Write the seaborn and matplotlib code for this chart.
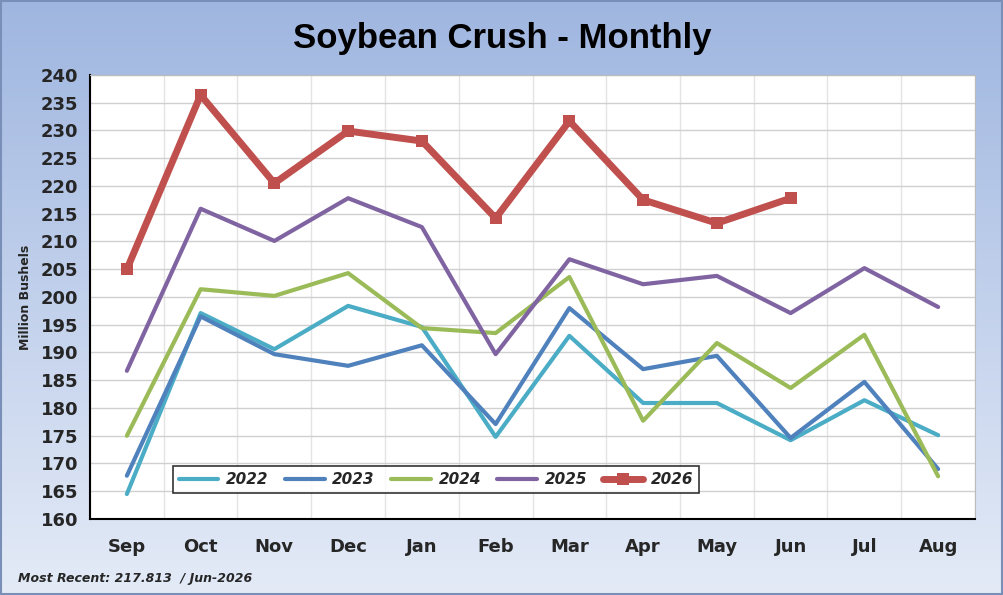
import numpy as np
import pandas as pd
import matplotlib
matplotlib.use("Agg")
import matplotlib.pyplot as plt
import seaborn as sns

sns.set_style("white")
plt.rcParams["font.family"] = ["DejaVu Sans"]

months = ["Sep", "Oct", "Nov", "Dec", "Jan", "Feb", "Mar", "Apr", "May", "Jun", "Jul", "Aug"]
crush_2022 = [164.5, 197.1, 190.6, 198.4, 194.6, 174.8, 193.0, 180.9, 180.9, 174.2, 181.4, 175.1]
crush_2023 = [167.8, 196.5, 189.7, 187.6, 191.3, 177.1, 198.0, 187.0, 189.4, 174.6, 184.7, 169.0]
crush_2024 = [175.0, 201.4, 200.2, 204.3, 194.4, 193.5, 203.6, 177.7, 191.7, 183.6, 193.2, 167.7]
crush_2025 = [186.7, 215.9, 210.1, 217.8, 212.6, 189.7, 206.8, 202.3, 203.8, 197.1, 205.2, 198.2]
crush_2026 = [205.0, 236.4, 220.5, 229.9, 228.1, 214.2, 231.7, 217.5, 213.3, 217.8]

series = {"2022": crush_2022, "2023": crush_2023, "2024": crush_2024,
          "2025": crush_2025, "2026": crush_2026}
colors = {"2022": "#4bacc6", "2023": "#4f81bd", "2024": "#9bbb59",
          "2025": "#8064a2", "2026": "#c0504d"}

rows = []
for year, vals in series.items():
    for i, v in enumerate(vals):
        rows.append({"Month": i, "Value": v, "Year": year})
df = pd.DataFrame(rows)

fig = plt.figure(figsize=(10.04, 5.95), dpi=100)

# gradient background
bg = fig.add_axes([0, 0, 1, 1], zorder=-10)
grad = np.linspace(0, 1, 256).reshape(-1, 1)
cmap = matplotlib.colors.LinearSegmentedColormap.from_list("bg", ["#9fb6e0", "#e4ebf7"])
bg.imshow(grad, aspect="auto", cmap=cmap, extent=[0, 1, 0, 1])
bg.axis("off")

ax = fig.add_axes([90 / 1004, 1 - 519 / 595, 885 / 1004, 444 / 595])
ax.set_facecolor("white")
for year in series:
    d = df[df["Year"] == year]
    sns.lineplot(data=d, x="Month", y="Value", ax=ax, color=colors[year],
                 linewidth=5 if year == "2026" else 3,
                 marker="s" if year == "2026" else None, markersize=9,
                 markeredgewidth=0, label=year)

ax.set_xlim(-0.5, 11.5)
ax.set_ylim(160, 240)
ax.set_yticks(range(160, 241, 5))
ax.set_xticks(range(12))
ax.set_xticklabels(months, fontsize=13, fontweight="bold")
ax.set_xticks(np.arange(-0.5, 12, 1), minor=True)
ax.tick_params(axis="x", which="major", length=0, pad=14)
ax.tick_params(axis="x", which="minor", length=6, direction="out", color="black")
ax.tick_params(axis="y", labelsize=13, length=5, direction="out", color="black")
for lbl in ax.get_yticklabels():
    lbl.set_fontweight("bold")
ax.grid(axis="y", color="#d0d0d0", linewidth=1)
ax.grid(axis="x", which="minor", color="#e4e4e4", linewidth=1)
ax.set_xlabel("")
ax.set_ylabel("Million Bushels", fontsize=9, fontweight="bold", labelpad=6)
for s in ["top", "right"]:
    ax.spines[s].set_color("#bbbbbb")
for s in ["left", "bottom"]:
    ax.spines[s].set_color("black")
    ax.spines[s].set_linewidth(1.5)

leg = ax.legend(loc="lower left", bbox_to_anchor=(75 / 885, 18 / 444, 542 / 885, 38 / 444),
                mode="expand", ncol=5, frameon=True, fancybox=False, handlelength=2.6,
                columnspacing=1.2, handletextpad=0.5,
                prop={"weight": "bold", "style": "italic", "size": 11})
leg.get_frame().set_edgecolor("black")
leg.get_frame().set_linewidth(1.2)

fig.text(0.5, 0.935, "Soybean Crush - Monthly", ha="center", va="center", color="black",
         fontsize=25, fontweight="bold", family="Liberation Sans")
fig.text(0.018, 0.027, "Most Recent: 217.813  / Jun-2026", fontsize=9,
         fontweight="bold", style="italic", va="center")
fig.patches.append(plt.Rectangle((0.001, 0.002), 0.997, 0.996, transform=fig.transFigure,
                                 fill=False, edgecolor="#7a8fb8", linewidth=1.5))

fig.savefig("out.png", dpi=100)
